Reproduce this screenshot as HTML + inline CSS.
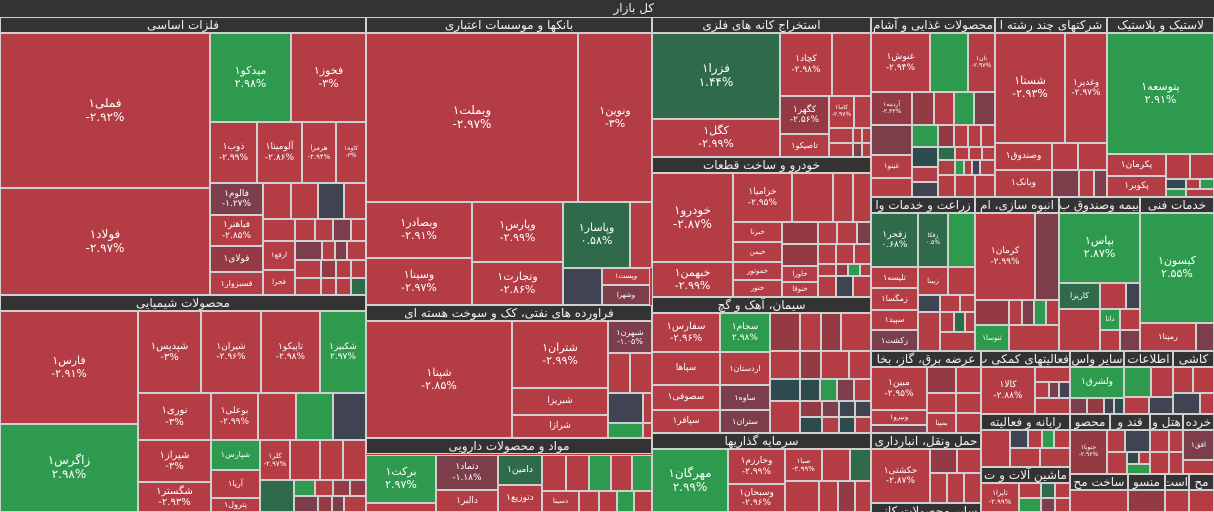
<!DOCTYPE html>
<html><head><meta charset="utf-8">
<style>
html,body{margin:0;padding:0;background:#d8d8d8;}
#map{position:relative;width:1214px;height:512px;overflow:hidden;background:#b43c45;font-family:"DejaVu Sans","Liberation Sans",sans-serif;}
.t{position:absolute;box-sizing:border-box;border:1px solid #cfcfcf;color:#fff;display:flex;flex-direction:column;align-items:center;justify-content:center;text-align:center;line-height:1.15;overflow:hidden;white-space:nowrap;}
.h{position:absolute;box-sizing:border-box;background:#333;color:#f0f0f0;border:1px solid #cfcfcf;height:16px;font-size:12px;line-height:14px;text-align:center;overflow:hidden;white-space:nowrap;direction:rtl;}
.top{position:absolute;left:0;top:0;width:1214px;height:17px;background:#333;color:#eee;font-size:12px;line-height:16px;text-align:right;padding-right:560px;box-sizing:border-box;}
</style></head><body>
<div id="map">
<div class="top">کل بازار</div>
</div>
<script>
var C={r:'#b43c45',g:'#2e9a4d',G:'#2f6b4b',s:'#404452',m:'#7b3e4a',M:'#933a45',t:'#2f4a4e'};
var headers=[
[0,17,366,'فلزات اساسی'],[366,17,286,'بانکها و موسسات اعتباری'],[652,17,219,'استخراج کانه های فلزی'],[871,17,124,'محصولات غذایی و آشام'],[995,17,112,'شرکتهای چند رشته ا'],[1107,17,107,'لاستیک و پلاستیک'],
[0,295,366,'محصولات شیمیایی'],[366,305,286,'فراورده های نفتی، کک و سوخت هسته ای'],[366,438,286,'مواد و محصولات دارویی'],[652,157,219,'خودرو و ساخت قطعات'],[652,297,219,'سیمان، آهک و گچ'],[652,433,219,'سرمایه گذاریها'],
[871,197,104,'زراعت و خدمات وا'],[975,197,84,'انبوه سازی، ام'],[1059,197,81,'بیمه وصندوق ب'],[1140,197,74,'خدمات فنی'],
[871,351,110,'عرضه برق، گاز، بخا'],[981,351,89,'فعالیتهای کمکی ب'],[1070,351,54,'سایر واس'],[1124,351,49,'اطلاعات'],[1173,351,41,'کاشی'],
[871,433,110,'حمل ونقل، انبارداری'],[981,414,89,'رایانه و فعالیته'],[1070,414,40,'محصو'],[1110,414,40,'قند و'],[1150,414,33,'هتل و'],[1183,414,31,'خرده'],
[981,467,89,'ماشین آلات و ت'],[1070,474,58,'ساخت مح'],[1128,474,37,'منسو'],[1165,474,24,'است'],[1189,474,25,'مح'],[871,503,110,'سایر محصولات کانی']];
var tiles=[
[0,33,210,155,'r','فملی۱','-۲.۹۲%',12],[0,188,210,107,'r','فولاد۱','-۲.۹۷%',12],
[210,33,81,89,'g','میدکو۱','۲.۹۸%',11],[291,33,75,89,'r','فخوز۱','-۳%',11],
[210,122,47,61,'r','ذوب۱','-۲.۹۹%',9],[257,122,45,61,'r','آلومینا۱','-۲.۸۶%',9],[302,122,34,61,'r','هرمزا','-۲.۹۴%',7],[336,122,30,61,'r','کاوه۱','-۳%',6],
[210,183,53,32,'m','فالوم۱','-۱.۲۷%',9],[210,215,53,31,'r','فباهنر۱','-۲.۸۵%',9],[210,246,53,26,'M','فولای۱','',9],[210,272,53,23,'r','فسبزوار۱','',8],
[263,183,28,36,'r','','',8],[291,183,27,36,'r','','',8],[318,183,26,36,'s','','',8],[344,183,22,36,'r','','',8],
[263,219,32,22,'r','','',8],[295,219,20,22,'r','','',8],[315,219,18,22,'r','','',8],[333,219,18,22,'m','','',8],[351,219,15,22,'r','','',8],
[263,241,32,29,'r','ارفع۱','',7],[295,241,27,19,'m','','',8],[322,241,13,19,'r','','',8],[335,241,12,19,'m','','',8],[347,241,19,19,'r','','',8],
[263,270,32,25,'r','فجرا','',7],[295,260,26,18,'r','','',8],[321,260,15,18,'M','','',8],[336,260,15,18,'r','','',8],[351,260,15,18,'r','','',8],[295,278,26,17,'r','','',8],[321,278,15,17,'r','','',8],[336,278,15,17,'r','','',8],[351,278,15,17,'G','','',8],
[0,311,138,113,'r','فارس۱','-۲.۹۱%',11],[0,424,138,88,'g','زاگرس۱','۲.۹۸%',12],
[138,311,63,82,'r','شپدیس۱','-۳%',10],[201,311,60,82,'r','شیران۱','-۲.۹۶%',9],[261,311,59,82,'r','تاپیکو۱','-۲.۹۸%',9],[320,311,46,82,'g','شکبیر۱','۲.۹۷%',9],
[138,393,73,47,'r','نوری۱','-۳%',10],[211,393,47,47,'r','بوعلی۱','-۲.۹۹%',9],[258,393,38,47,'r','','',8],[296,393,37,47,'g','','',8],[333,393,33,47,'s','','',8],
[138,440,73,42,'r','شیراز۱','-۳%',10],[138,482,73,30,'r','شگستر۱','-۲.۹۳%',10],
[211,440,49,30,'g','شپارس۱','',8],[260,440,30,40,'r','کلر۱','-۲.۹۷%',7],[290,440,30,40,'r','','',8],[320,440,23,40,'r','','',8],[343,440,23,40,'r','','',8],
[211,470,49,28,'r','آریا۱','',8],[211,498,49,14,'r','پترول۱','',8],[260,480,34,32,'G','','',8],[294,480,21,16,'g','','',8],[315,480,18,16,'r','','',8],[333,480,17,16,'M','','',8],[350,480,16,16,'M','','',8],[294,496,24,16,'m','','',8],[318,496,14,16,'M','','',8],[332,496,12,16,'m','','',8],[344,496,22,16,'r','','',8],
[366,33,212,169,'r','وبملت۱','-۲.۹۷%',12],[578,33,74,169,'r','ونوین۱','-۳%',11],
[366,202,106,56,'r','وبصادر۱','-۲.۹۱%',11],[366,258,106,47,'r','وسینا۱','-۲.۹۷%',11],[472,202,91,60,'r','وپارس۱','-۲.۹۹%',11],[472,262,91,43,'r','وتجارت۱','-۲.۸۶%',11],
[563,202,67,66,'G','وپاسار۱','۰.۵۸%',11],[630,202,22,66,'r','','',8],[563,268,39,37,'s','','',8],[602,268,48,17,'r','وپست۱','',7],[602,285,48,20,'m','وشهرا','',7],
[366,321,146,117,'r','شپنا۱','-۲.۸۵%',11],[512,321,96,67,'r','شتران۱','-۲.۹۹%',11],[512,388,96,27,'r','شبریزا','',9],[512,415,96,23,'r','شرازا','',9],
[608,321,44,32,'m','شبهرن۱','-۱.۰۵%',8],[608,353,22,40,'r','','',8],[630,353,22,40,'r','','',8],[608,393,35,30,'s','','',8],[643,393,9,30,'r','','',8],[608,423,35,15,'g','','',8],[643,423,9,15,'r','','',8],
[366,455,70,48,'g','برکت۱','۲.۹۷%',11],[366,503,70,9,'r','','',8],[436,455,62,35,'m','دتماد۱','-۱.۱۸%',9],[436,490,62,22,'r','دالبر۱','',9],[498,455,44,30,'G','دامین۱','',9],[498,485,44,27,'r','دتوزیع۱','',9],
[542,455,24,36,'r','','',8],[566,455,23,36,'r','','',8],[589,455,22,36,'g','','',8],[611,455,21,36,'r','','',8],[632,455,20,36,'g','','',8],[542,491,37,21,'r','دسینا','',7],[579,491,20,21,'r','','',8],[599,491,18,21,'r','','',8],[617,491,17,21,'g','','',8],[634,491,18,21,'r','','',8],
[652,33,128,86,'G','فزرا۱','۱.۴۴%',12],[652,119,128,38,'r','کگل۱','-۲.۹۹%',11],[780,33,52,63,'r','کچاد۱','-۲.۹۸%',9],[832,33,39,63,'r','','',8],
[780,96,49,38,'M','کگهر۱','-۲.۵۶%',9],[829,96,25,32,'r','کاما۱','-۲.۹۷%',6],[854,96,17,32,'r','','',8],[780,134,49,23,'r','تاصیکو۱','',8],[829,128,24,15,'r','','',8],[853,128,9,15,'r','','',8],[862,128,9,15,'r','','',8],[829,143,24,14,'r','','',8],[853,143,9,14,'m','','',8],[862,143,9,14,'r','','',8],
[652,173,81,89,'r','خودرو۱','-۲.۸۷%',12],[652,262,81,35,'r','خبهمن۱','-۲.۹۹%',11],[733,173,59,49,'r','خزامیا۱','-۲.۹۵%',9],
[733,222,49,20,'r','خبرنا','',7],[733,242,49,20,'r','خیمن','',7],[733,262,49,18,'r','خموتور','',7],[733,280,49,17,'r','ختور','',7],
[792,173,41,49,'r','','',8],[833,173,20,49,'r','','',8],[853,173,18,49,'r','','',8],[782,222,36,22,'M','','',8],[782,244,36,22,'M','','',8],[818,222,19,22,'r','','',8],[837,222,20,22,'r','','',8],[857,222,14,22,'m','','',8],
[782,266,36,16,'r','خاورا','',7],[782,282,36,15,'r','ختوقا','',7],[818,244,18,20,'r','','',8],[836,244,18,20,'r','','',8],[854,244,17,20,'r','','',8],[818,264,18,12,'r','','',8],[836,264,12,12,'M','','',8],[848,264,12,12,'g','','',8],[860,264,11,12,'r','','',8],[818,276,18,21,'r','','',8],[836,276,17,21,'s','','',8],[853,276,18,21,'r','','',8],
[652,313,68,39,'r','سفارس۱','-۲.۹۶%',10],[720,313,50,39,'g','سجام۱','۲.۹۸%',9],[652,352,68,33,'r','سپاها','',9],[652,385,68,25,'r','سصوفی۱','',9],[652,410,68,23,'r','سپاقر۱','',9],
[720,352,50,33,'r','اردستان۱','',8],[720,385,50,25,'m','ساوه۱','',8],[720,410,50,23,'m','ستران۱','',8],
[770,313,30,38,'M','','',8],[800,313,21,38,'r','','',8],[821,313,20,38,'M','','',8],[841,313,30,38,'r','','',8],
[770,351,30,28,'r','','',8],[800,351,21,28,'M','','',8],[821,351,28,28,'r','','',8],[849,351,22,28,'r','','',8],
[770,379,30,22,'t','','',8],[800,379,20,22,'t','','',8],[820,379,17,22,'g','','',8],[837,379,17,22,'m','','',8],[854,379,17,22,'r','','',8],
[770,401,30,32,'r','','',8],[800,401,22,16,'M','','',8],[822,401,17,16,'m','','',8],[839,401,16,16,'s','','',8],[855,401,16,16,'s','','',8],[800,417,22,16,'t','','',8],[822,417,17,16,'r','','',8],[839,417,16,16,'t','','',8],[855,417,16,16,'r','','',8],
[652,449,76,63,'g','مهرگان۱','۲.۹۹%',12],[728,449,57,35,'r','وخارزم۱','-۲.۹۹%',9],[728,484,57,28,'r','وسبحان۱','-۲.۹۶%',9],[785,449,37,32,'r','صبا۱','-۲.۹۹%',7],[822,449,28,32,'r','','',8],[850,449,21,32,'G','','',8],
[785,481,34,31,'r','','',8],[819,481,19,31,'r','','',8],[838,481,17,31,'M','','',8],[855,481,16,31,'r','','',8],
[871,33,59,59,'r','غنوش۱','-۲.۹۴%',9],[930,33,38,59,'g','','',8],[968,33,27,59,'r','تان۱','-۲.۹۷%',6],
[871,92,41,33,'M','آردینه۱','-۲.۳۳%',6],[912,92,22,33,'M','','',8],[934,92,20,33,'r','','',8],[954,92,20,33,'g','','',8],[974,92,21,33,'m','','',8],
[871,125,41,30,'m','','',8],[912,125,26,22,'g','','',8],[938,125,16,22,'M','','',8],[954,125,14,22,'r','','',8],[968,125,13,22,'r','','',8],[981,125,14,22,'r','','',8],
[871,155,41,23,'r','غینو۱','',7],[871,178,41,19,'r','','',8],[912,147,26,20,'t','','',8],[938,147,17,13,'G','','',8],[955,147,14,13,'r','','',8],[969,147,13,13,'r','','',8],[982,147,13,13,'r','','',8],
[912,167,26,15,'r','','',8],[912,182,26,15,'s','','',8],[938,160,17,15,'r','','',8],[955,160,9,15,'g','','',8],[964,160,8,15,'r','','',8],[972,160,8,15,'s','','',8],[980,160,15,15,'r','','',8],[938,175,17,22,'r','','',8],[955,175,20,22,'r','','',8],[975,175,20,22,'r','','',8],
[995,33,70,110,'r','شستا۱','-۲.۹۳%',11],[1065,33,42,110,'r','وغدیر۱','-۲.۹۷%',9],[995,143,57,27,'r','وصندوق۱','',9],[995,170,57,27,'r','وبانک۱','',9],
[1052,143,26,27,'r','','',8],[1078,143,29,27,'r','','',8],[1052,170,27,27,'m','','',8],[1079,170,15,27,'r','','',8],[1094,170,13,27,'m','','',8],
[1107,33,107,121,'g','پتوسعه۱','۲.۹۱%',11],[1107,154,59,22,'r','پکرمان۱','',9],[1107,176,59,21,'r','پکویر۱','',9],[1166,154,24,25,'r','','',8],[1190,154,24,25,'r','','',8],[1166,179,20,10,'t','','',8],[1186,179,14,10,'r','','',8],[1200,179,14,10,'g','','',8],[1166,189,20,8,'g','','',8],[1186,189,28,8,'r','','',8],
[871,213,47,54,'G','زفجر۱','۰.۶۸%',9],[918,213,30,54,'G','زفکا','۰.۵%',6],[948,213,27,54,'g','','',8],
[871,267,47,21,'r','تلیسه۱','',8],[871,288,47,22,'r','زمگسا۱','',8],[871,310,47,20,'r','سپید۱','',8],[871,330,47,21,'m','زکشت۱','',8],
[918,267,30,28,'r','زبینا','',7],[948,267,27,28,'r','','',8],[918,295,22,17,'s','','',8],[940,295,20,17,'r','','',8],[960,295,15,17,'r','','',8],[918,312,22,39,'r','','',8],[940,312,14,20,'r','','',8],[954,312,11,20,'G','','',8],[965,312,10,20,'r','','',8],[940,332,35,19,'r','','',8],
[975,213,60,87,'r','کرمان۱','-۲.۹۹%',9],[1035,213,24,87,'m','','',8],[975,300,34,25,'M','','',8],[1009,300,13,25,'r','','',8],[1022,300,12,25,'m','','',8],[1034,300,12,25,'g','','',8],[1046,300,13,25,'r','','',8],
[975,325,34,26,'g','ثنوسا۱','',7],[1009,325,50,26,'r','','',8],
[1059,213,81,70,'g','بپاس۱','۲.۸۷%',11],[1059,283,41,26,'G','کاریزا','',8],[1100,283,26,26,'r','','',8],[1126,283,14,26,'s','','',8],
[1059,309,41,42,'r','','',8],[1100,309,20,21,'g','دانا','',7],[1120,309,20,21,'r','','',8],[1100,330,20,21,'r','','',8],[1120,330,20,21,'m','','',8],
[1140,213,74,110,'g','کیسون۱','۲.۵۵%',11],[1140,323,56,28,'r','رمپنا۱','',8],[1196,323,18,28,'m','','',8],
[871,367,56,43,'r','مبین۱','-۲.۹۵%',9],[871,410,56,15,'r','ونیرو۱','',7],[871,425,56,8,'m','','',8],[927,367,29,26,'M','','',8],[956,367,25,26,'r','','',8],[927,393,29,20,'r','','',8],[956,393,25,20,'r','','',8],[927,413,29,20,'r','بمپنا','',7],[956,413,25,20,'r','','',8],
[981,367,54,47,'r','کالا۱','-۲.۸۸%',9],[1035,367,35,15,'r','','',8],[1035,382,14,16,'r','','',8],[1049,382,10,16,'m','','',8],[1059,382,11,16,'s','','',8],[1035,398,35,16,'r','','',8],
[1070,367,54,31,'g','ولشرق۱','',9],[1070,398,17,16,'m','','',8],[1087,398,17,16,'M','','',8],[1104,398,10,16,'s','','',8],[1114,398,10,16,'t','','',8],
[1124,367,27,30,'g','','',8],[1151,367,22,30,'r','','',8],[1124,397,25,17,'r','','',8],[1149,397,24,17,'s','','',8],
[1173,367,20,26,'r','','',8],[1193,367,21,26,'r','','',8],[1173,393,27,21,'s','','',8],[1200,393,14,21,'r','','',8],
[871,449,59,54,'r','حکشتی۱','-۲.۸۷%',9],[930,449,27,24,'M','','',8],[957,449,24,24,'r','','',8],[930,473,17,30,'r','','',8],[947,473,17,30,'r','','',8],[964,473,17,30,'r','','',8],
[981,430,29,37,'r','','',8],[1010,430,18,18,'s','','',8],[1028,430,14,18,'r','','',8],[1042,430,12,18,'g','','',8],[1054,430,16,18,'r','','',8],[1010,448,30,19,'r','','',8],[1040,448,30,19,'r','','',8],
[981,483,38,29,'r','تاپرا۱','-۲.۹۹%',7],[1019,483,22,15,'r','','',8],[1041,483,14,15,'G','','',8],[1055,483,15,15,'r','','',8],[1019,498,22,14,'g','','',8],[1041,498,14,14,'m','','',8],[1055,498,15,14,'r','','',8],
[1070,430,37,44,'M','جنوبا۱','-۲.۹۶%',6],[1107,430,18,22,'r','','',8],[1125,430,25,22,'s','','',8],[1107,452,20,22,'r','','',8],[1127,452,12,12,'t','','',8],[1139,452,11,12,'r','','',8],[1127,464,23,10,'g','','',8],
[1150,430,19,22,'r','','',8],[1169,430,14,22,'r','','',8],[1150,452,19,22,'r','','',8],[1169,452,14,22,'r','','',8],
[1183,430,31,30,'m','افق۱','',7],[1183,460,31,14,'r','','',8],
[1070,490,58,22,'r','','',8],[1128,490,37,22,'M','','',8],[1165,490,24,22,'r','','',8],[1189,490,25,22,'r','','',8]
];
var map=document.getElementById('map');
headers.forEach(function(d){
  var e=document.createElement('div');
  e.className='h';
  e.style.left=d[0]+'px';e.style.top=d[1]+'px';e.style.width=d[2]+'px';
  e.textContent=d[3];
  
  
  map.appendChild(e);
});
tiles.forEach(function(d){
  var e=document.createElement('div');
  e.className='t';
  e.style.left=d[0]+'px';e.style.top=d[1]+'px';e.style.width=d[2]+'px';e.style.height=d[3]+'px';
  e.style.background=C[d[4]];
  e.style.fontSize=d[7]+'px';
  if(d[5]){var a=document.createElement('div');a.textContent=d[5];a.style.direction='rtl';e.appendChild(a);}
  if(d[6]){var b=document.createElement('div');b.textContent=d[6];b.style.direction='ltr';e.appendChild(b);}
  
  
  map.appendChild(e);
});
</script>
</body></html>
